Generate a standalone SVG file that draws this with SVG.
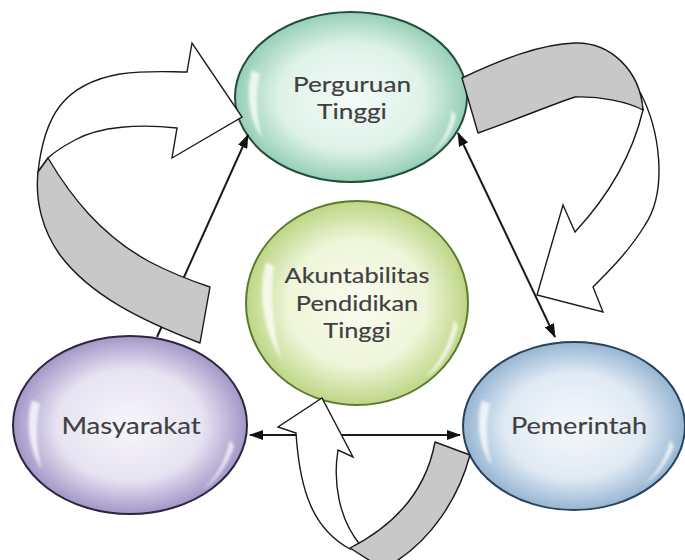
<svg xmlns="http://www.w3.org/2000/svg" width="685" height="560" viewBox="0 0 685 560">
<style>
.lbl{font-family:Lato,"Open Sans","Liberation Sans",sans-serif;fill:#404040;stroke:#404040;stroke-width:0.15;text-anchor:middle}
.node{stroke-width:2}
.hl{fill:#ffffff;opacity:0.75;filter:url(#blur)}
.ln{stroke:#1a1a1a;stroke-width:2;fill:none}
.band{fill:#c8c8c8;stroke:#1a1a1a;stroke-width:1.4;stroke-linejoin:round}
.white{fill:#ffffff;stroke:#1a1a1a;stroke-width:1.4;stroke-linejoin:miter}
</style>
<defs>
<filter id="blur" x="-20%" y="-20%" width="140%" height="140%"><feGaussianBlur stdDeviation="1.6"/></filter>
<radialGradient id="gPT" cx="50%" cy="50%" r="52%">
<stop offset="0" stop-color="#f4fbf8"/><stop offset="0.6" stop-color="#def2e9"/><stop offset="1" stop-color="#8ecbb0"/>
</radialGradient>
<radialGradient id="gAK" cx="50%" cy="50%" r="52%">
<stop offset="0" stop-color="#fbfcf2"/><stop offset="0.6" stop-color="#eef5d8"/><stop offset="1" stop-color="#b7d37c"/>
</radialGradient>
<radialGradient id="gMA" cx="50%" cy="50%" r="52%">
<stop offset="0" stop-color="#f7f5fb"/><stop offset="0.6" stop-color="#e7e3f2"/><stop offset="1" stop-color="#9c8ec2"/>
</radialGradient>
<radialGradient id="gPE" cx="50%" cy="50%" r="52%">
<stop offset="0" stop-color="#f4f8fb"/><stop offset="0.6" stop-color="#e0eaf4"/><stop offset="1" stop-color="#8eb0ce"/>
</radialGradient>
<marker id="ah" viewBox="0 0 14 10" refX="13" refY="5" markerWidth="14" markerHeight="10" markerUnits="userSpaceOnUse" orient="auto-start-reverse">
<path d="M0,0 L14,5 L0,10 Z" fill="#111"/>
</marker>
</defs>

<g id="node-perguruan-tinggi">
<ellipse class="node" cx="351" cy="97" rx="116" ry="85" fill="url(#gPT)" stroke="#234d3b"/>
<path class="hl" d="M252,70 C246,90 248,118 262,138 C256,116 255,92 260,74 Z"/>
<path class="hl" d="M452,110 C450,128 442,144 430,154 C442,148 452,134 456,116 Z"/>
<g transform="translate(352,0) scale(1.22,1)">
<text class="lbl" x="0" y="92" font-size="21.5">Perguruan</text>
<text class="lbl" x="0" y="119" font-size="21.5">Tinggi</text>
</g>
</g>

<g id="node-akuntabilitas">
<ellipse class="node" cx="357" cy="303" rx="111" ry="102" fill="url(#gAK)" stroke="#5b7a2e"/>
<path class="hl" d="M266,262 C258,290 262,330 282,360 C272,328 270,292 274,266 Z"/>
<path class="hl" d="M454,320 C450,345 438,365 424,378 C440,370 452,350 458,326 Z"/>
<g transform="translate(357,0) scale(1.18,1)">
<text class="lbl" x="0" y="283" font-size="21.5">Akuntabilitas</text>
<text class="lbl" x="0" y="311" font-size="21.5">Pendidikan</text>
<text class="lbl" x="0" y="338" font-size="21.5">Tinggi</text>
</g>
</g>

<g id="node-masyarakat">
<ellipse class="node" cx="130" cy="425" rx="117" ry="89" fill="url(#gMA)" stroke="#2e2640"/>
<path class="hl" d="M32,400 C26,420 28,448 42,470 C36,448 35,422 40,404 Z"/>
<path class="hl" d="M230,440 C226,460 216,478 202,490 C216,482 228,464 234,446 Z"/>
<g transform="translate(131,0) scale(1.2,1)">
<text class="lbl" x="0" y="434" font-size="23">Masyarakat</text>
</g>
</g>

<g id="node-pemerintah">
<ellipse class="node" cx="574" cy="426" rx="111" ry="84" fill="url(#gPE)" stroke="#27435e"/>
<path class="hl" d="M482,400 C476,420 478,446 492,466 C486,446 485,422 490,404 Z"/>
<path class="hl" d="M670,440 C666,458 656,474 644,484 C656,478 668,462 674,446 Z"/>
<g transform="translate(579,0) scale(1.18,1)">
<text class="lbl" x="0" y="434" font-size="23">Pemerintah</text>
</g>
</g>

<g id="connectors">
<line class="ln" x1="157" y1="337" x2="248" y2="135" marker-end="url(#ah)"/>
<line class="ln" x1="458" y1="133" x2="555" y2="337" marker-start="url(#ah)" marker-end="url(#ah)"/>
<line class="ln" x1="250" y1="435" x2="460" y2="435" stroke-width="2.4" marker-start="url(#ah)" marker-end="url(#ah)"/>

<g id="cycle-arrow-left">
<path class="white" d="M38,172 C44,118 62,84 120,74 C150,70 170,72 187,72 L192,43 L242,117 L172,158 L177,128 C140,124 100,126 75,140 C62,147 54,152 48,158 Z"/>
<path class="band" d="M48,158 C70,195 100,235 150,262 C175,275 195,282 210,287 L200,343 C140,320 90,295 60,255 C42,230 35,200 38,172 Z"/>
</g>

<g id="cycle-arrow-right">
<path class="white" d="M640,92 C660,130 668,190 645,225 C630,250 610,270 593,287 L603,312 L537,295 L563,205 L575,232 C600,205 630,165 643,110 Z"/>
<path class="band" d="M462,78 C500,60 540,44 575,43 C610,42 640,70 643,110 C628,102 600,96 575,97 C548,106 510,122 478,133 Z"/>
</g>

<g id="cycle-arrow-bottom">
<path class="white" d="M350,549 C315,530 300,495 296,433 L278,427 L322,398 L353,457 L338,450 C333,480 338,520 362,547 Z"/>
<path class="band" d="M435,442 C428,480 405,520 350,548 L372,562 L395,562 C430,540 458,500 470,455 Z"/>
</g>
</g>
</svg>
